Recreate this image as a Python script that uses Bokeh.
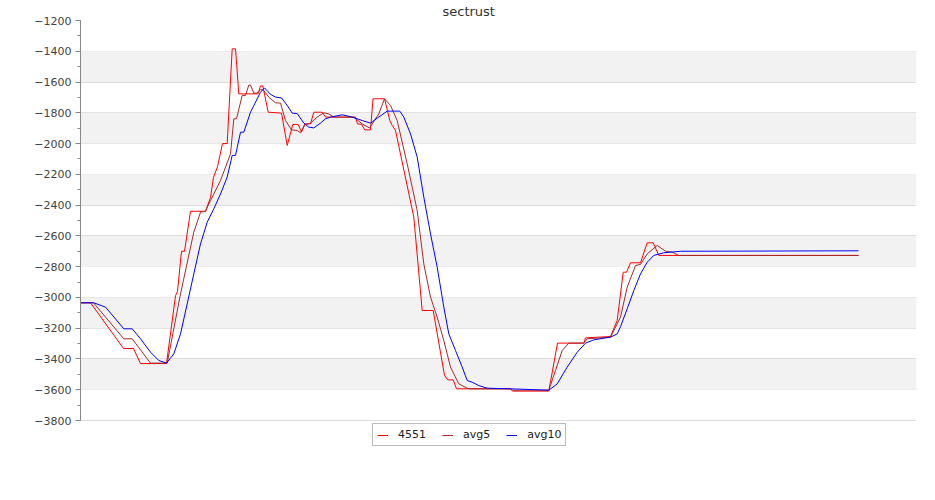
from bokeh.plotting import figure
from bokeh.models import Legend, LegendItem, SingleIntervalTicker, FixedTicker, Range1d, Grid
from bokeh.embed import file_html
from bokeh.resources import INLINE

title_text = "sectrust"
series_names = ["4551", "avg5", "avg10"]

# x positions are sample positions along the (hidden) x axis
x_4551 = [0, 10, 43, 53, 60, 86, 95, 97, 101, 104, 110, 125, 130, 133, 137, 142, 146.7,
          151.7, 155, 158.3, 177.5, 180, 182.3, 187.7, 201, 206.7, 212.3, 217.7, 221,
          224.3, 230, 233.3, 241.7, 245, 275, 277, 281, 284.3, 290, 292.5, 304, 309.3,
          311.7, 315, 333.3, 341.7, 352.7, 364, 367.3, 372.7, 376, 430, 432, 468.3, 477,
          503.3, 505, 530, 536.7, 542.7, 546, 550, 560, 566.7, 572.7, 578.3, 778]
y_4551 = [-3035, -3035, -3332, -3332, -3430, -3430, -2990, -2960, -2700, -2700, -2440,
          -2440, -2350, -2220, -2150, -2000, -2000, -1384, -1384, -1677, -1677, -1625,
          -1625, -1796, -1802, -2012, -1876, -1876, -1926, -1872, -1872, -1796, -1796,
          -1828, -1828, -1872, -1875, -1911, -1911, -1709, -1709, -1850, -1882, -1915,
          -2478, -3085, -3085, -3507, -3536, -3536, -3594, -3594, -3609, -3609, -3297,
          -3297, -3263, -3254, -3150, -2836, -2836, -2775, -2775, -2645, -2645, -2727,
          -2727]

x_avg5 = [0, 13, 43.3, 51.7, 70, 86.7, 100, 113.3, 120, 125, 130, 140, 150, 153.3, 156,
          161.7, 165, 168.3, 170, 173.3, 176.7, 180, 183.3, 188.3, 195, 200, 205, 211,
          216.7, 220, 224.3, 230, 236.7, 243.3, 248.3, 253.3, 273.3, 281.7, 289, 298.3,
          304, 310, 316.7, 326.7, 336.7, 343.3, 350, 356.7, 363.3, 370, 378.3, 386.7,
          390, 430, 432, 468.3, 475, 481.7, 488.3, 503.3, 506.7, 530, 540, 546.7, 555,
          560, 566.7, 576.7, 585, 591.7, 598.3, 778]
y_avg5 = [-3035, -3035, -3269, -3269, -3427, -3427, -2977, -2576, -2446, -2440, -2370,
          -2240, -2067, -1839, -1839, -1687, -1687, -1620, -1620, -1672, -1672, -1648,
          -1655, -1698, -1735, -1737, -1850, -1911, -1915, -1930, -1878, -1867, -1828,
          -1800, -1807, -1828, -1828, -1872, -1898, -1807, -1709, -1752, -1850, -2132,
          -2435, -2782, -2998, -3128, -3280, -3453, -3562, -3590, -3594, -3594, -3603,
          -3603, -3475, -3345, -3297, -3297, -3269, -3258, -3128, -2933, -2793, -2785,
          -2717, -2662, -2700, -2706, -2727, -2727]

x_avg10 = [0, 13.3, 25, 43.3, 51.7, 60, 70, 78.3, 86, 93.3, 100, 106.7, 113.3, 120, 126.7,
           133.3, 140, 146.7, 151.7, 155, 160, 163.3, 170, 180, 184, 190, 195, 201, 206.7,
           211.7, 216.7, 223.3, 228.3, 233.3, 240, 245, 250, 261.7, 271.7, 281.7, 290,
           296.7, 306.7, 319.3, 323.3, 330, 336.7, 343.3, 350, 356.7, 363.3, 368.3, 375,
           381.7, 386.7, 391.7, 398.3, 406.7, 430, 468.3, 476.7, 486.7, 496.7, 505, 513.3,
           530, 536.7, 540, 546.7, 553.3, 560, 566.7, 573.3, 583.3, 600, 778]
y_avg10 = [-3035, -3035, -3063, -3204, -3204, -3269, -3356, -3410, -3427, -3367, -3237,
           -3042, -2847, -2652, -2511, -2424, -2327, -2218, -2077, -2077, -1926, -1926,
           -1796, -1666, -1638, -1680, -1698, -1703, -1752, -1802, -1805, -1867, -1893,
           -1898, -1867, -1839, -1828, -1813, -1828, -1850, -1867, -1835, -1789, -1789,
           -1828, -1937, -2088, -2348, -2587, -2803, -3063, -3237, -3345, -3453, -3540,
           -3551, -3573, -3590, -3594, -3603, -3562, -3453, -3356, -3297, -3276, -3258,
           -3237, -3190, -3074, -2955, -2847, -2771, -2727, -2710, -2700, -2697]

y_min, y_max = -3800, -1200
y_step = 200
x_min, x_max = 0, 836
units_per_px = (y_max - y_min) / 400.0
legend_room_px = 30

p = figure(output_backend="svg", toolbar_location=None,
           x_range=Range1d(x_min, x_max),
           y_range=Range1d(y_min - legend_room_px * units_per_px, y_max),
           min_border_left=80, min_border_right=11, min_border_top=0, min_border_bottom=0,
           frame_width=836, frame_height=400 + legend_room_px)
p.title.text = title_text
p.title.align = "left"
p.title.offset = 362
p.title.text_font = "DejaVu Sans"
p.title.text_font_size = "13px"
p.title.text_font_style = "normal"
p.title.text_color = "#333333"
p.title.standoff = 3
p.outline_line_color = None
p.background_fill_color = "white"
p.border_fill_color = "white"

p.xaxis.visible = False
p.xgrid.visible = False

p.yaxis.ticker = SingleIntervalTicker(interval=y_step, num_minor_ticks=2)
p.ygrid.ticker = SingleIntervalTicker(interval=y_step, num_minor_ticks=2)
p.yaxis.bounds = (y_min, y_max)
p.ygrid.bounds = (y_min, y_max)
p.yaxis.major_label_text_font = "DejaVu Sans"
p.yaxis.major_label_text_font_size = "11px"
p.yaxis.major_label_text_color = "#444444"
p.yaxis.axis_line_color = "#888888"
p.yaxis.major_tick_line_color = "#888888"
p.yaxis.minor_tick_line_color = "#888888"
p.yaxis.major_tick_out = 5
p.yaxis.major_tick_in = 0
p.yaxis.minor_tick_out = 3
p.yaxis.minor_tick_in = 0
p.yaxis.major_label_standoff = 4
p.ygrid.grid_line_color = "#dddddd"
p.ygrid.band_fill_color = None

# shaded bands alternate between the major ticks
band_grid = Grid(dimension=1,
                 ticker=FixedTicker(ticks=list(range(y_min + y_step, y_max, y_step))),
                 grid_line_color=None, band_fill_color="#f2f2f2", band_fill_alpha=1.0,
                 level="underlay")
p.add_layout(band_grid)

r1 = p.line(x_4551, y_4551, line_color="#ff0000", line_width=1)
r2 = p.line(x_avg5, y_avg5, line_color="#a52a2a", line_width=1)
r3 = p.line(x_avg10, y_avg10, line_color="#0000ff", line_width=1)

legend = Legend(items=[LegendItem(label=series_names[0], renderers=[r1]),
                       LegendItem(label=series_names[1], renderers=[r2]),
                       LegendItem(label=series_names[2], renderers=[r3])],
                orientation="horizontal", location=(292, 4),
                border_line_color="#777777", border_line_width=1,
                background_fill_color="white", background_fill_alpha=1.0,
                label_text_font="DejaVu Sans", label_text_font_size="11px",
                label_text_color="#222222",
                glyph_width=11, glyph_height=12, label_height=12,
                label_standoff=10, spacing=16, padding=4, margin=0)
p.add_layout(legend, "center")

open("out.html", "w").write(file_html(p, INLINE))
